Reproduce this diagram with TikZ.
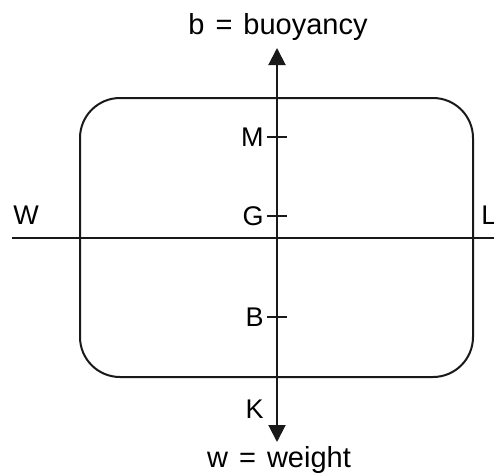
\documentclass[tikz,border=0pt]{standalone}
\usepackage{fontspec}
\setmainfont{Liberation Sans}
\usetikzlibrary{arrows.meta, positioning}

\begin{document}
\begin{tikzpicture}[
  x=0.5pt, y=-0.5pt,
  lbl/.style={font=\fontsize{13.5}{15}\selectfont, inner sep=1pt},
  force/.style={lbl, font=\fontsize{14.5}{16}\selectfont},
  hull/.style={draw=black!90, line width=1pt, rounded corners=20pt},
  line/.style={draw=black!90, line width=1pt},
  axis/.style={{Triangle[length=8.5pt, width=8.5pt]}-{Triangle[length=8.5pt, width=8.5pt]}, line width=1pt, draw=black!90}
]
  \useasboundingbox (0,0) rectangle (494,473);

  % Hull section
  \draw[hull] (80,98) rectangle (473,377);

  % Waterline (W -- L)
  \coordinate (wl_w) at (12,238);
  \coordinate (wl_l) at (494,238);
  \draw[line] (wl_w) -- (wl_l);
  \node[lbl] (lbl_w) at (26,215) {W};
  \node[lbl] (lbl_l) at (489,215) {L};

  % Vertical axis with forces
  \coordinate (ax_top) at (277,48);
  \coordinate (ax_bot) at (277,442);
  \draw[axis] (ax_bot) -- (ax_top);
  \node[force] (buoy) at (278,27) {b\hspace{1.5pt} = \hspace{1.5pt}buoyancy};
  \node[force] (wgt) at (279,460) {w\hspace{1.5pt} = \hspace{1.5pt}weight};

  % Points on the axis
  \foreach \pt/\y in {M/137, G/216, B/317} {
    \coordinate (\pt) at (277,\y);
    \draw[line] ([xshift=-5pt]\pt) -- ([xshift=5pt]\pt);
    \node[lbl, left=5.5pt of \pt] (lbl_\pt) {\pt};
  }
  \coordinate (K) at (277,409);
  \node[lbl, left=5.5pt of K] (lbl_K) {K};

\end{tikzpicture}
\end{document}
